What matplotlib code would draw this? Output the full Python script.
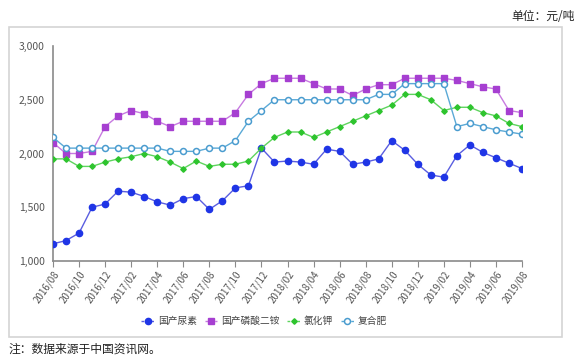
import matplotlib
matplotlib.use("Agg")
import matplotlib.pyplot as plt
from matplotlib.patches import Rectangle
from matplotlib.lines import Line2D

plt.rcParams['font.family'] = ['Noto Sans CJK SC', 'DejaVu Sans']

months = []
y, m = 2016, 8
for _ in range(37):
    months.append(f"{y}/{m:02d}")
    m += 1
    if m > 12:
        m = 1
        y += 1

urea = [1160, 1190, 1260, 1500, 1530, 1650, 1640, 1600, 1550, 1520, 1580, 1600,
        1480, 1560, 1680, 1700, 2050, 1920, 1930, 1920, 1900, 2040, 2020, 1900,
        1920, 1950, 2120, 2030, 1900, 1800, 1780, 1980, 2080, 2010, 1960, 1910, 1860]
dap = [2100, 2000, 2000, 2020, 2250, 2350, 2400, 2370, 2300, 2250, 2300, 2300,
       2300, 2300, 2380, 2550, 2650, 2700, 2700, 2700, 2650, 2600, 2600, 2540,
       2600, 2640, 2640, 2700, 2700, 2700, 2700, 2680, 2650, 2620, 2600, 2400, 2380]
kcl = [1950, 1950, 1880, 1880, 1920, 1950, 1970, 2000, 1970, 1920, 1860, 1930,
       1880, 1900, 1900, 1930, 2050, 2150, 2200, 2200, 2150, 2200, 2250, 2300,
       2350, 2400, 2450, 2550, 2550, 2500, 2400, 2430, 2430, 2380, 2350, 2280, 2250]
compound = [2150, 2050, 2050, 2050, 2050, 2050, 2050, 2050, 2050, 2020, 2020, 2020,
            2050, 2050, 2120, 2300, 2400, 2500, 2500, 2500, 2500, 2500, 2500, 2500,
            2500, 2550, 2550, 2650, 2650, 2650, 2650, 2250, 2280, 2250, 2220, 2200, 2180]

series_names = ["国产尿素", "国产磷酸二铵", "氯化钾", "复合肥"]
yticks = [1000, 1500, 2000, 2500, 3000]
ytick_labels = ["1,000", "1,500", "2,000", "2,500", "3,000"]

fig = plt.figure(figsize=(5.83, 3.6), dpi=100)
fig.patches.append(Rectangle((9/583, 1-337/360), (562-9)/583, (337-27)/360,
                             transform=fig.transFigure, fill=False,
                             edgecolor='#d4d4d4', linewidth=1.2))
ax = fig.add_axes([53/583, 1-261/360, (522-53)/583, (261-46)/360])
x = list(range(len(months)))

styles = [
    dict(color='#5a5ee0', marker='o', mfc='#1f35e6', mec='#1f35e6', ms=4.5),
    dict(color='#c77ae0', marker='s', mfc='#a63fd1', mec='#a63fd1', ms=4.3),
    dict(color='#5ed45e', marker='D', mfc='#2ec42e', mec='#2ec42e', ms=2.8),
    dict(color='#5aa9d6', marker='o', mfc='white', mec='#4a9ccf', ms=4.3, mew=1.1),
]
for data, st in zip([urea, dap, kcl, compound], styles):
    ax.plot(x, data, lw=1.0, zorder=3, **st)

ax.set_xlim(0, 36)
ax.set_ylim(1000, 3000)
ax.set_yticks(yticks)
ax.set_yticklabels(ytick_labels)
ax.set_xticks(x[::2])
ax.set_xticklabels(months[::2], rotation=55, ha='right', rotation_mode='anchor')
for s in ['top', 'right']:
    ax.spines[s].set_visible(False)
for s in ['left', 'bottom']:
    ax.spines[s].set_color('#8a8a8a')
    ax.spines[s].set_linewidth(1.2)
ax.tick_params(axis='y', length=0, labelsize=7.5, labelcolor='#555555', pad=6)
ax.tick_params(axis='x', length=4, color='#8a8a8a', labelsize=7, labelcolor='#555555', pad=2)

handles = []
for name, st in zip(series_names, styles):
    handles.append(Line2D([0], [0], ls=(0, (2, 1.5)), lw=1.0, label=name, **st))
fig.legend(handles=handles, loc='center', bbox_to_anchor=(264/583, 1-321/360), ncol=4,
           frameon=False, fontsize=7, handlelength=1.3, columnspacing=0.8,
           handletextpad=0.4, labelcolor='#444444')

fig.text(0.986, 1-16/360, "单位：元/吨", ha='right', va='center', fontsize=8.5, color='#222222')
fig.text(8/583, 1-349/360, "注：数据来源于中国资讯网。", ha='left', va='center', fontsize=8.5, color='#222222')

fig.savefig("out.png", dpi=100)
